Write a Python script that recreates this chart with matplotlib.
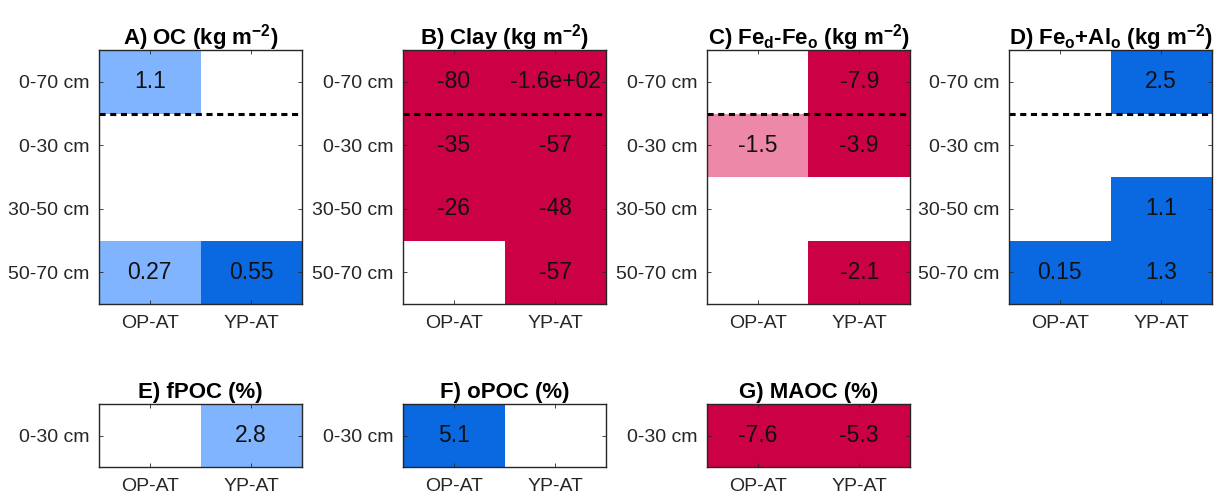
import numpy as np
import matplotlib
matplotlib.use('Agg')
import matplotlib.pyplot as plt
from matplotlib.colors import ListedColormap

plt.rcParams['font.family'] = ['Liberation Sans', 'DejaVu Sans']
plt.rcParams['mathtext.fontset'] = 'custom'
plt.rcParams['mathtext.rm'] = 'Liberation Sans:bold'
plt.rcParams['mathtext.bf'] = 'Liberation Sans:bold'
plt.rcParams['mathtext.default'] = 'bf'

# treatments and depths
treatments = ['OP-AT', 'YP-AT']
depths = ['0-70 cm', '0-30 cm', '30-50 cm', '50-70 cm']
depths_top = ['0-30 cm']

nan = np.nan
# change values (nan = not significant), rows = depths, cols = treatments
oc_vals = [[1.1, nan], [nan, nan], [nan, nan], [0.27, 0.55]]
oc_sig = [[1, 0], [0, 0], [0, 0], [1, 2]]
clay_vals = [[-80, -160], [-35, -57], [-26, -48], [nan, -57]]
clay_sig = [[2, 2], [2, 2], [2, 2], [0, 2]]
fed_vals = [[nan, -7.9], [-1.5, -3.9], [nan, nan], [nan, -2.1]]
fed_sig = [[0, 2], [1, 2], [0, 0], [0, 2]]
feal_vals = [[nan, 2.5], [nan, nan], [nan, 1.1], [0.15, 1.3]]
feal_sig = [[0, 2], [0, 0], [0, 2], [2, 2]]

fpoc_vals = [[nan, 2.8]]
fpoc_sig = [[0, 1]]
opoc_vals = [[5.1, nan]]
opoc_sig = [[2, 0]]
maoc_vals = [[-7.6, -5.3]]
maoc_sig = [[2, 2]]

titles_top = [r'A) OC (kg m$^{-2}$)', r'B) Clay (kg m$^{-2}$)',
              r'C) Fe$_{d}$-Fe$_{o}$ (kg m$^{-2}$)', r'D) Fe$_{o}$+Al$_{o}$ (kg m$^{-2}$)']
titles_bot = ['E) fPOC (%)', 'F) oPOC (%)', 'G) MAOC (%)']

# colour classes: 0 white, 1 light blue, 2 blue, 3 light red, 4 red
cmap = ListedColormap(['white', '#80b4ff', '#0a68e0', '#ee88a8', '#cc0044'])


def draw(ax, vals, sig, ylabels, title, dotted):
    vals = np.array(vals, dtype=float)
    sig = np.array(sig)
    cls = np.where(sig == 0, 0, np.where(np.nan_to_num(vals) >= 0, sig, sig + 2))
    ax.pcolormesh(np.arange(3) + 0.5, np.arange(len(ylabels) + 1) + 0.5, cls,
                  cmap=cmap, vmin=-0.5, vmax=4.5)
    for i in range(vals.shape[0]):
        for j in range(vals.shape[1]):
            if not np.isnan(vals[i, j]):
                ax.text(j + 1, i + 1, '{:.2g}'.format(vals[i, j]), ha='center',
                        va='center', fontsize=16.5, color='#111111')
    if dotted:
        ax.axhline(1.5, color='black', ls=(0, (2, 1.5)), lw=2.2)
    ax.set_xlim(0.5, 2.5)
    ax.set_ylim(len(ylabels) + 0.5, 0.5)
    ax.set_xticks([1, 2])
    ax.set_xticklabels(treatments)
    ax.set_yticks(np.arange(len(ylabels)) + 1)
    ax.set_yticklabels(ylabels)
    ax.tick_params(direction='in', top=True, right=True, length=3, width=0.6,
                   labelsize=14, colors='#262626', pad=7)
    ax.tick_params(axis='x', pad=8)
    for s in ax.spines.values():
        s.set_color('#262626')
        s.set_linewidth(1.0)
    ax.set_title(title, fontsize=16, fontweight='bold', pad=4)


fig = plt.figure(figsize=(12.17, 4.96), dpi=100)
W, H = 1217, 496
lefts = [99, 403, 707, 1009]
width = 203

top_data = [(oc_vals, oc_sig), (clay_vals, clay_sig), (fed_vals, fed_sig), (feal_vals, feal_sig)]
for k, (v, s) in enumerate(top_data):
    ax = fig.add_axes([lefts[k] / W, 1 - 304 / H, width / W, 254 / H])
    draw(ax, v, s, depths, titles_top[k], True)

bot_data = [(fpoc_vals, fpoc_sig), (opoc_vals, opoc_sig), (maoc_vals, maoc_sig)]
for k, (v, s) in enumerate(bot_data):
    ax = fig.add_axes([lefts[k] / W, 1 - 467 / H, width / W, 63 / H])
    draw(ax, v, s, depths_top, titles_bot[k], False)

fig.savefig('out.png', dpi=100)
